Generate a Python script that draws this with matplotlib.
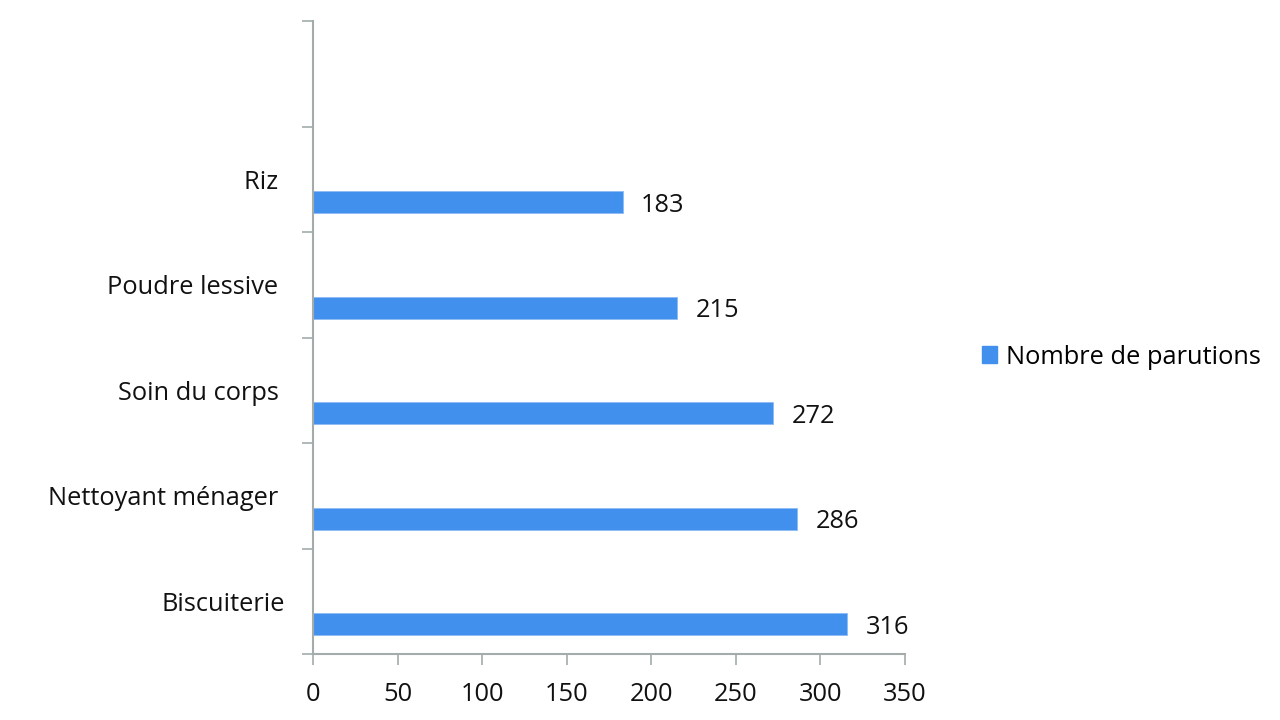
import matplotlib
matplotlib.use("Agg")
import matplotlib.pyplot as plt
from matplotlib.patches import Patch

categories = ["Biscuiterie", "Nettoyant ménager ", "Soin du corps ", "Poudre lessive ", "Riz ", ""]
values = [316, 286, 272, 215, 183, None]
xticks = [0, 50, 100, 150, 200, 250, 300, 350]
series_name = "Nombre de parutions"

plt.rcParams['font.family'] = ['Open Sans', 'DejaVu Sans']
bar_color = '#4290EE'
axis_color = '#A3ABAB'
fs = 18.3

fig = plt.figure(figsize=(12.8, 7.2), dpi=100)
ax = fig.add_axes([313/1280, 1-654/720, (905-313)/1280, (654-21)/720])

n = len(categories)
bar_h = 0.209
offset = 0.284
for i, v in enumerate(values):
    if v is None:
        continue
    ax.barh(i + offset, v, height=bar_h, color=bar_color, edgecolor='#8CBBF2', linewidth=0.6)
    ax.text(v + 11, i + offset - 0.03, str(v), va='center', ha='left', fontsize=fs, color='#111111')

ax.set_xlim(0, 350)
ax.set_ylim(0, n)
ax.set_xticks(xticks)
ax.set_xticklabels([str(t) for t in xticks], fontsize=fs, color='#111111')
ax.set_yticks(range(n + 1))
ax.set_yticklabels([])
ax.set_yticks([i + 0.5 for i in range(n)], minor=True)
ax.set_yticklabels(categories, minor=True, fontsize=fs, color='#111111')
ax.tick_params(axis='y', which='minor', length=0, pad=20)
ax.tick_params(axis='y', which='major', length=8, color=axis_color, width=1.2)
ax.tick_params(axis='x', length=8, color=axis_color, width=1.2, pad=12)

for s in ['top', 'right']:
    ax.spines[s].set_visible(False)
for s in ['left', 'bottom']:
    ax.spines[s].set_color(axis_color)
    ax.spines[s].set_linewidth(1.5)

handle = Patch(facecolor=bar_color, edgecolor=bar_color)
fig.legend([handle], [series_name], loc='center left', bbox_to_anchor=(959/1280, 1-357/720),
           frameon=False, fontsize=fs, handlelength=0.6, handleheight=0.6, handletextpad=0.35)

fig.savefig("out.png", dpi=100)
